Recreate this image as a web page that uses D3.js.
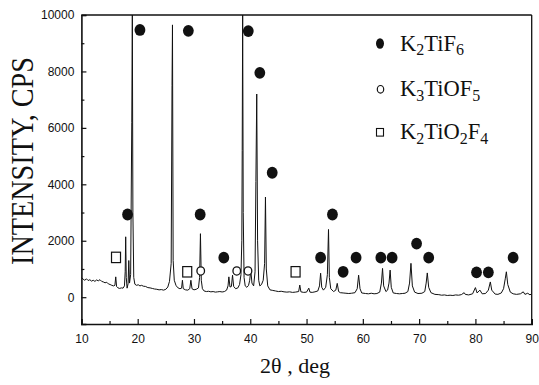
<!DOCTYPE html>
<html>
<head>
<meta charset="utf-8">
<script src="https://cdn.jsdelivr.net/npm/d3@7"></script>
<style>
  html, body { margin: 0; padding: 0; background: #fff; }
  svg { display: block; }
</style>
</head>
<body>
<svg id="chart" width="539" height="385"></svg>
<script>
// X-ray diffraction pattern: [2θ (deg), intensity (CPS)]
const pattern = [
  [10.0, 700], [10.3, 640], [10.6, 600], [10.9, 650], [11.2, 590], [11.5, 620],
  [11.8, 570], [12.1, 600], [12.4, 560], [12.7, 610], [13.0, 580], [13.3, 620],
  [13.6, 560], [13.9, 540], [14.2, 510], [14.5, 530], [14.8, 470], [15.1, 450],
  [15.4, 420], [15.7, 400], [15.95, 420], [16.1, 720], [16.25, 380], [16.5, 330],
  [16.8, 310], [17.1, 330], [17.4, 320], [17.65, 400], [17.78, 900], [17.87, 2140],
  [17.97, 700], [18.12, 320], [18.3, 480], [18.42, 1300], [18.55, 500], [18.75, 800],
  [18.95, 6200], [19.05, 10000], [19.15, 3000], [19.3, 700], [19.5, 460], [19.8, 420],
  [20.1, 440], [20.4, 400], [20.7, 420], [21.0, 390], [21.4, 380], [21.8, 340],
  [22.2, 330], [22.6, 310], [23.0, 290], [23.4, 280], [23.8, 260], [24.2, 270],
  [24.6, 250], [25.0, 280], [25.35, 360], [25.65, 560], [25.95, 1200], [26.1, 7500],
  [26.18, 9650], [26.3, 1300], [26.5, 600], [26.8, 420], [27.1, 340], [27.5, 300],
  [27.8, 320], [27.95, 600], [28.1, 300], [28.5, 260], [28.9, 250], [29.25, 300],
  [29.45, 600], [29.65, 300], [30.0, 260], [30.4, 280], [30.8, 330], [31.0, 700],
  [31.15, 2250], [31.3, 600], [31.5, 300], [31.8, 220], [32.2, 200], [32.6, 210],
  [33.0, 190], [33.4, 200], [33.8, 180], [34.2, 190], [34.6, 200], [35.0, 185],
  [35.4, 200], [35.8, 250], [36.05, 400], [36.2, 720], [36.4, 360], [36.65, 380],
  [36.85, 780], [37.05, 380], [37.4, 300], [37.8, 330], [38.1, 450], [38.35, 800],
  [38.5, 2000], [38.57, 5200], [38.65, 10000], [38.75, 3000], [38.9, 700], [39.1, 400],
  [39.4, 350], [39.7, 420], [39.9, 600], [40.1, 950], [40.3, 500], [40.6, 400],
  [40.85, 900], [41.0, 4100], [41.15, 7200], [41.3, 2000], [41.5, 600], [41.7, 400],
  [42.0, 450], [42.3, 600], [42.55, 1200], [42.7, 3550], [42.85, 1000], [43.1, 400],
  [43.5, 260], [44.0, 240], [44.5, 220], [45.0, 200], [45.5, 210], [46.0, 190],
  [46.5, 180], [47.0, 190], [47.5, 170], [48.0, 180], [48.6, 200], [48.8, 430],
  [49.0, 190], [49.5, 170], [50.0, 180], [50.4, 320], [50.6, 180], [51.0, 170],
  [51.5, 190], [52.0, 220], [52.3, 400], [52.5, 850], [52.7, 350], [53.0, 250],
  [53.4, 350], [53.7, 800], [53.9, 2400], [54.05, 700], [54.3, 300], [54.8, 200],
  [55.2, 250], [55.45, 490], [55.7, 200], [56.0, 160], [56.5, 150], [57.0, 140],
  [57.5, 130], [58.0, 140], [58.6, 160], [59.0, 300], [59.25, 780], [59.5, 300],
  [59.8, 150], [60.5, 130], [61.0, 120], [61.5, 140], [62.0, 120], [62.5, 130],
  [63.0, 180], [63.3, 500], [63.5, 1020], [63.7, 400], [64.1, 200], [64.4, 250],
  [64.65, 500], [64.85, 960], [65.05, 350], [65.4, 150], [66.0, 130], [66.5, 120],
  [67.0, 130], [67.5, 140], [68.0, 200], [68.3, 500], [68.55, 1200], [68.8, 400],
  [69.2, 180], [69.8, 130], [70.5, 140], [71.0, 200], [71.25, 500], [71.45, 860],
  [71.7, 350], [72.1, 160], [72.8, 100], [73.5, 90], [74.0, 70], [74.5, 80],
  [75.0, 60], [75.5, 70], [76.0, 60], [76.5, 80], [77.0, 70], [77.5, 90],
  [78.0, 160], [78.2, 100], [78.8, 80], [79.5, 120], [80.0, 340], [80.3, 150],
  [80.8, 250], [81.2, 120], [81.8, 130], [82.3, 250], [82.65, 540], [82.9, 250],
  [83.5, 110], [84.0, 100], [84.6, 150], [85.0, 300], [85.3, 650], [85.5, 900],
  [85.75, 450], [86.2, 180], [86.7, 120], [87.3, 100], [88.0, 120], [88.5, 190],
  [88.8, 100], [89.3, 140], [89.7, 80], [90.0, 130]
];

// Phase reflections marked above the pattern: [2θ, marker height]
const k2tif6Marks = [
  [18.2, 2930], [20.4, 9470], [29.0, 9440], [31.1, 2930], [35.3, 1400],
  [39.65, 9430], [41.7, 7950], [43.9, 4410], [52.5, 1400], [54.6, 2930],
  [56.5, 900], [58.8, 1400], [63.2, 1400], [65.2, 1400], [69.55, 1900],
  [71.7, 1400], [80.2, 880], [82.3, 880], [86.7, 1400]
];
const k3tiof5Marks = [[31.2, 930], [37.6, 930], [39.6, 930]];
const k2tio2f4Marks = [[16.15, 1410], [28.8, 900], [48.05, 900]];

// Axis ticks
const xMajorTicks = [10, 20, 30, 40, 50, 60, 70, 80, 90];
const xMinorTicks = [15, 25, 35, 45, 55, 65, 75, 85];
const yMajorTicks = [0, 2000, 4000, 6000, 8000, 10000];
const yMinorTicks = [1000, 3000, 5000, 7000, 9000];

// Legend entries: formula pieces, "sub" marks a subscript
const legendNames = [
  [["K", ""], ["2", "sub"], ["TiF", ""], ["6", "sub"]],
  [["K", ""], ["3", "sub"], ["TiOF", ""], ["5", "sub"]],
  [["K", ""], ["2", "sub"], ["TiO", ""], ["2", "sub"], ["F", ""], ["4", "sub"]]
];
const legendSymbols = ["filled", "open", "square"];

const svg = d3.select("#chart");
svg.append("rect").attr("width", 539).attr("height", 385).attr("fill", "#fff");

const plotLeft = 81.4, plotRight = 531.7, plotTop = 15, plotBottom = 324;
const x = d3.scaleLinear().domain([10, 90]).range([plotLeft, plotRight]);
const y = d3.scaleLinear().domain([-950, 10000]).range([plotBottom, plotTop]);

svg.append("defs").append("clipPath").attr("id", "plotClip")
  .append("rect").attr("x", plotLeft).attr("y", plotTop)
  .attr("width", plotRight - plotLeft).attr("height", plotBottom - plotTop);

// Diffraction trace
svg.append("path")
  .datum(pattern)
  .attr("clip-path", "url(#plotClip)")
  .attr("fill", "none")
  .attr("stroke", "#111")
  .attr("stroke-width", 1)
  .attr("stroke-linejoin", "round")
  .attr("d", d3.line().x(d => x(d[0])).y(d => y(d[1])));

// Phase markers
const markers = svg.append("g");
markers.selectAll("ellipse.k2tif6").data(k2tif6Marks).join("ellipse")
  .attr("class", "k2tif6")
  .attr("cx", d => x(d[0])).attr("cy", d => y(d[1]))
  .attr("rx", 5.4).attr("ry", 5.9).attr("fill", "#111");
markers.selectAll("ellipse.k3tiof5").data(k3tiof5Marks).join("ellipse")
  .attr("class", "k3tiof5")
  .attr("cx", d => x(d[0])).attr("cy", d => y(d[1]))
  .attr("rx", 3.8).attr("ry", 4.1)
  .attr("fill", "#fff").attr("stroke", "#111").attr("stroke-width", 1.3);
markers.selectAll("rect.k2tio2f4").data(k2tio2f4Marks).join("rect")
  .attr("class", "k2tio2f4")
  .attr("x", d => x(d[0]) - 4.5).attr("y", d => y(d[1]) - 5.2)
  .attr("width", 9).attr("height", 10.4)
  .attr("fill", "#fff").attr("stroke", "#111").attr("stroke-width", 1.2);

// Axes with inward ticks
const tickFont = "'Liberation Sans', Arial, sans-serif";
const xAxis = svg.append("g").attr("transform", `translate(0,${plotBottom})`)
  .call(d3.axisBottom(x).tickValues(xMajorTicks).tickSize(-5).tickPadding(10)
    .tickFormat(d3.format("d")));
svg.append("g").attr("transform", `translate(0,${plotBottom})`)
  .call(d3.axisBottom(x).tickValues(xMinorTicks).tickSize(-3).tickFormat(""))
  .call(g => g.select(".domain").remove());

const yAxis = svg.append("g").attr("transform", `translate(${plotLeft},0)`)
  .call(d3.axisLeft(y).tickValues(yMajorTicks).tickSize(-5).tickPadding(7)
    .tickFormat(d3.format("d")));
svg.append("g").attr("transform", `translate(${plotLeft},0)`)
  .call(d3.axisLeft(y).tickValues(yMinorTicks).tickSize(-3).tickFormat(""))
  .call(g => g.select(".domain").remove());

svg.selectAll(".tick line").attr("stroke", "#111").attr("stroke-width", 1.2);
[xAxis, yAxis].forEach(g => {
  g.select(".domain").attr("stroke", "#111").attr("stroke-width", 1.6);
  g.selectAll(".tick text").attr("font-family", tickFont).attr("font-size", 12)
    .attr("fill", "#111");
});

// Frame: top and right edges
svg.append("line").attr("x1", plotLeft).attr("x2", plotRight)
  .attr("y1", plotTop).attr("y2", plotTop)
  .attr("stroke", "#111").attr("stroke-width", 1.6);
svg.append("line").attr("x1", plotRight).attr("x2", plotRight)
  .attr("y1", plotTop).attr("y2", plotBottom)
  .attr("stroke", "#111").attr("stroke-width", 1.3);

// Axis titles
const serif = "'Liberation Serif', 'Times New Roman', serif";
svg.append("text")
  .attr("transform", "translate(33.3,161) rotate(-90)")
  .attr("text-anchor", "middle")
  .attr("font-family", serif).attr("font-size", 31)
  .attr("textLength", 208).attr("lengthAdjust", "spacingAndGlyphs")
  .attr("fill", "#111")
  .text("INTENSITY, CPS");

svg.append("text")
  .attr("x", 295).attr("y", 372.7)
  .attr("text-anchor", "middle")
  .attr("font-family", serif).attr("font-size", 22)
  .attr("fill", "#111")
  .text("2θ , deg");

// Legend
const legend = svg.append("g");
const legendRows = [43.5, 89.3, 132.3];
legendNames.forEach((parts, i) => {
  const cy = legendRows[i];
  const sym = legendSymbols[i];
  if (sym === "filled") {
    legend.append("ellipse").attr("cx", 380).attr("cy", cy).attr("rx", 4).attr("ry", 5.2)
      .attr("fill", "#111");
  } else if (sym === "open") {
    legend.append("ellipse").attr("cx", 380.5).attr("cy", cy).attr("rx", 3.2).attr("ry", 3.8)
      .attr("fill", "#fff").attr("stroke", "#111").attr("stroke-width", 1.2);
  } else {
    legend.append("rect").attr("x", 376.5).attr("y", cy - 3.8).attr("width", 7).attr("height", 7.6)
      .attr("fill", "#fff").attr("stroke", "#111").attr("stroke-width", 1.1);
  }
  const t = legend.append("text")
    .attr("x", 400).attr("y", cy + 7)
    .attr("font-family", serif).attr("font-size", 22.5).attr("fill", "#111");
  parts.forEach(([s, kind], j) => {
    const ts = t.append("tspan").text(s);
    if (kind === "sub") {
      ts.attr("font-size", 16).attr("dy", 4.5);
    } else if (j > 0) {
      ts.attr("dy", -4.5);
    }
  });
});
</script>
</body>
</html>
